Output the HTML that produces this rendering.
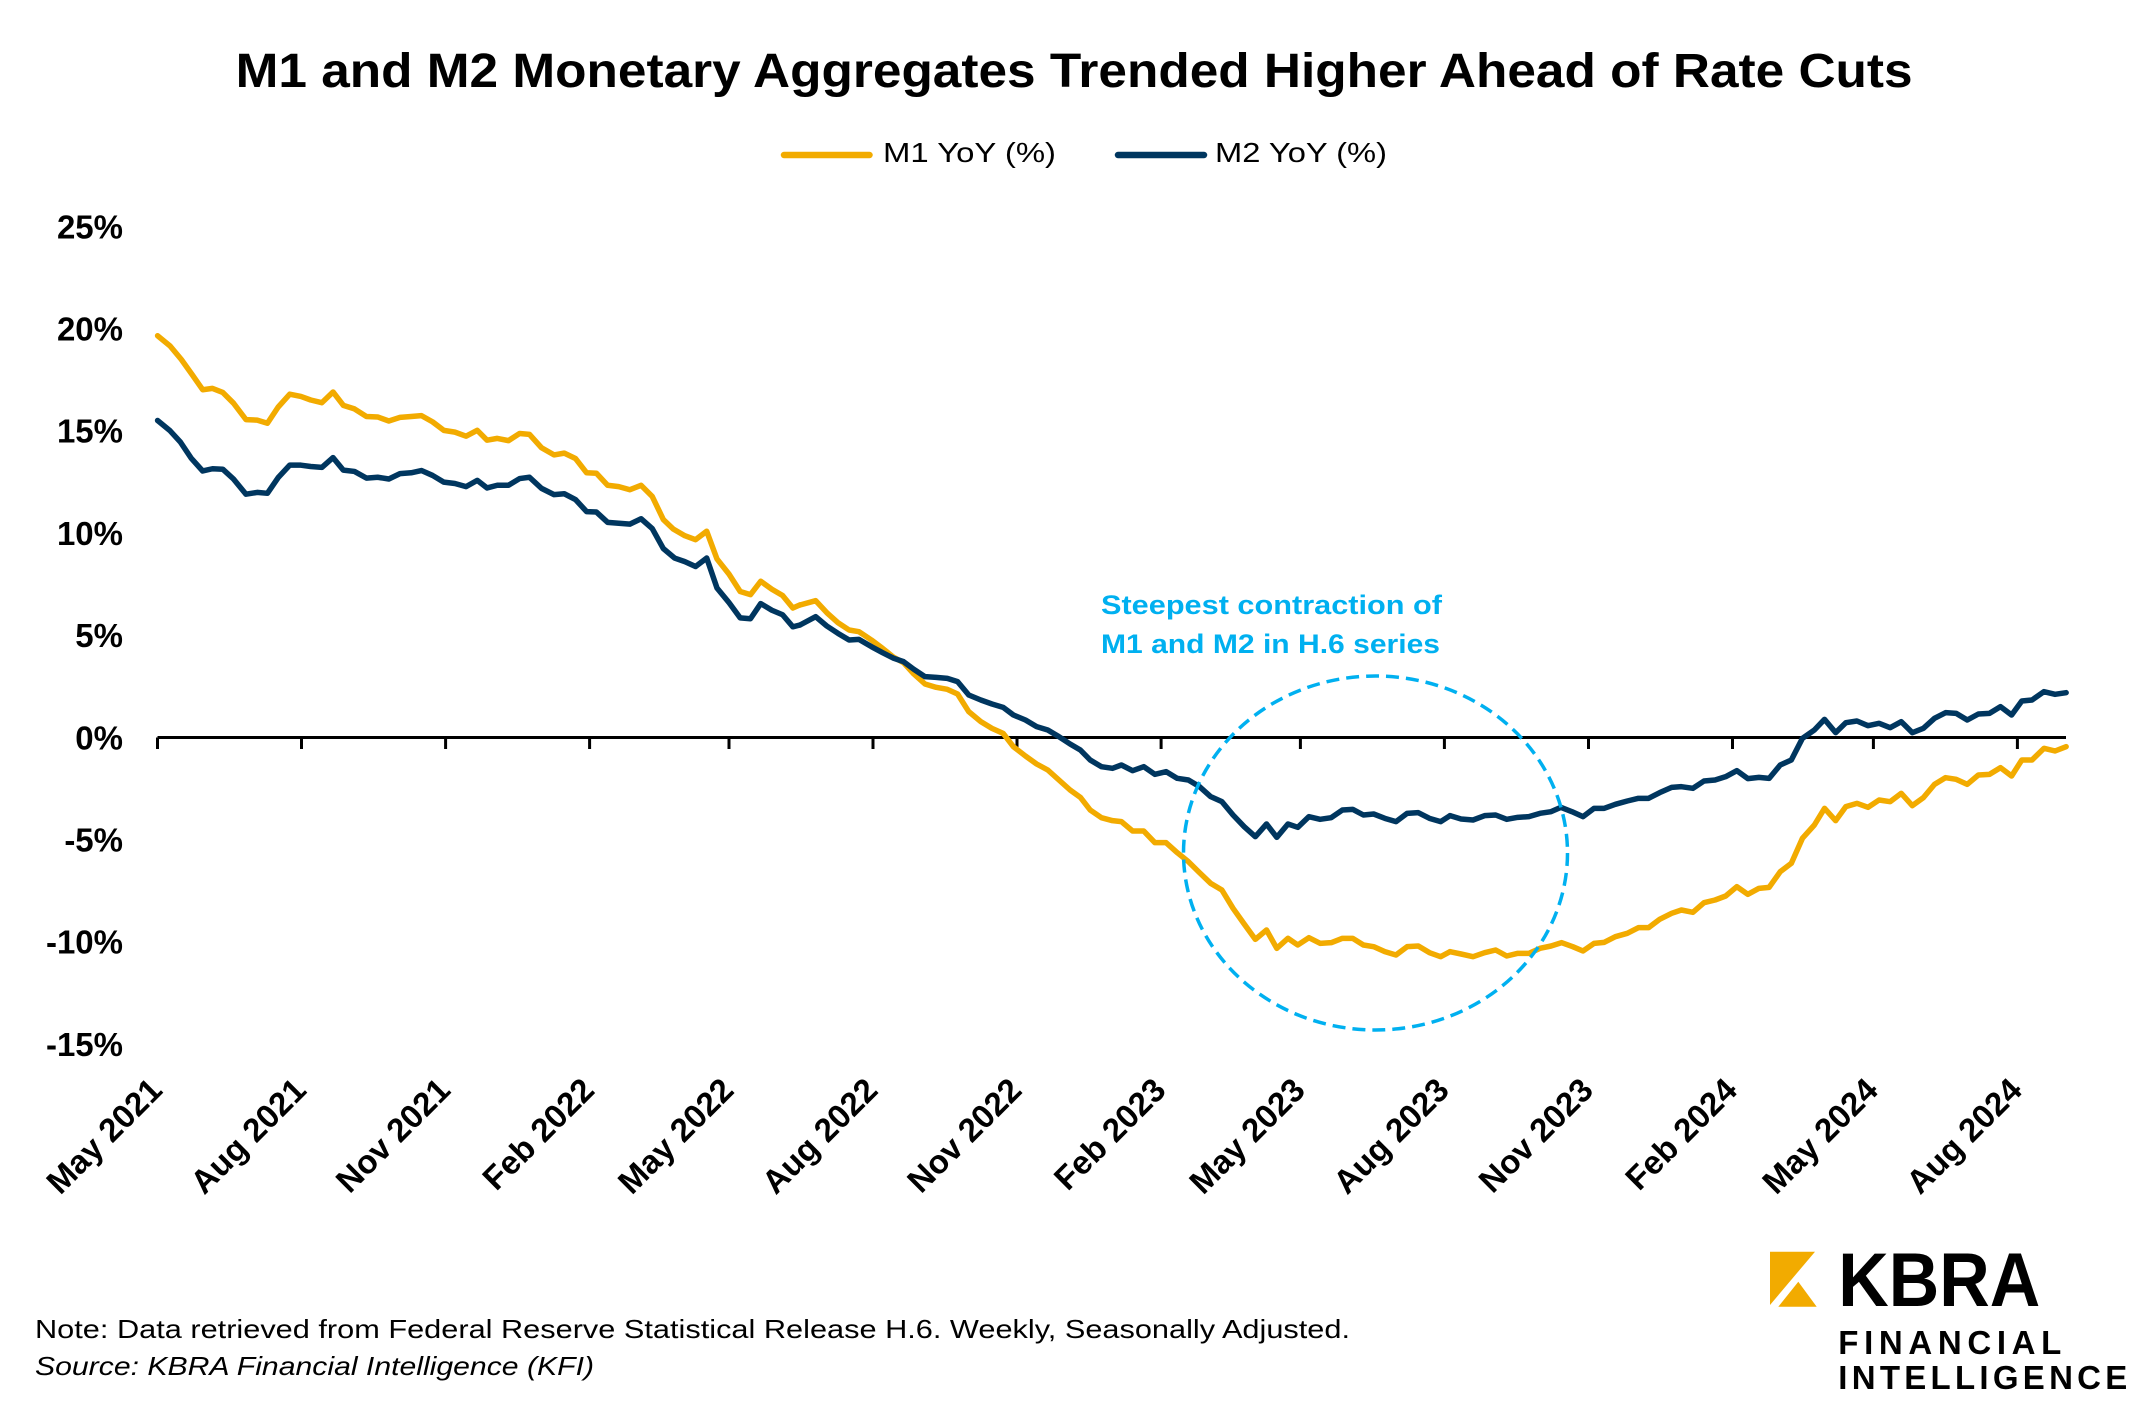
<!DOCTYPE html>
<html>
<head>
<meta charset="utf-8">
<style>
  html, body { margin: 0; padding: 0; background: #ffffff; }
  svg { display: block; }
  text { font-family: "Liberation Sans", Arial, sans-serif; }
</style>
</head>
<body>
<svg width="2145" height="1419" viewBox="0 0 2145 1419" xmlns="http://www.w3.org/2000/svg">
  <rect x="0" y="0" width="2145" height="1419" fill="#ffffff"/>

  <!-- Title -->
  <text x="235.6" y="87" font-size="48" font-weight="bold" fill="#000" textLength="1677" lengthAdjust="spacingAndGlyphs">M1 and M2 Monetary Aggregates Trended Higher Ahead of Rate Cuts</text>

  <!-- Legend -->
  <line x1="784" y1="155" x2="869.5" y2="155" stroke="#F2AB00" stroke-width="6.5" stroke-linecap="round"/>
  <text x="883" y="162" font-size="28" fill="#000" textLength="173" lengthAdjust="spacingAndGlyphs">M1 YoY (%)</text>
  <line x1="1118" y1="155" x2="1204" y2="155" stroke="#00365F" stroke-width="6.5" stroke-linecap="round"/>
  <text x="1215" y="162" font-size="28" fill="#000" textLength="172" lengthAdjust="spacingAndGlyphs">M2 YoY (%)</text>

  <!-- Y axis labels -->
  <g font-size="33" font-weight="bold" fill="#000" text-anchor="end">
    <text x="123" y="238.3">25%</text>
    <text x="123" y="340.5">20%</text>
    <text x="123" y="442.7">15%</text>
    <text x="123" y="544.9">10%</text>
    <text x="123" y="647.1">5%</text>
    <text x="123" y="749.3">0%</text>
    <text x="123" y="851.5">-5%</text>
    <text x="123" y="953.7">-10%</text>
    <text x="123" y="1055.9">-15%</text>
  </g>

  <!-- X axis line and ticks -->
  <line x1="157.5" y1="737.5" x2="2066" y2="737.5" stroke="#000" stroke-width="3"/>
  <g stroke="#000" stroke-width="3">
    <line x1="157.5" y1="737.5" x2="157.5" y2="749"/>
    <line x1="301.5" y1="737.5" x2="301.5" y2="749"/>
    <line x1="445.6" y1="737.5" x2="445.6" y2="749"/>
    <line x1="589.6" y1="737.5" x2="589.6" y2="749"/>
    <line x1="729.0" y1="737.5" x2="729.0" y2="749"/>
    <line x1="873.0" y1="737.5" x2="873.0" y2="749"/>
    <line x1="1017.0" y1="737.5" x2="1017.0" y2="749"/>
    <line x1="1161.1" y1="737.5" x2="1161.1" y2="749"/>
    <line x1="1300.4" y1="737.5" x2="1300.4" y2="749"/>
    <line x1="1444.4" y1="737.5" x2="1444.4" y2="749"/>
    <line x1="1588.5" y1="737.5" x2="1588.5" y2="749"/>
    <line x1="1732.5" y1="737.5" x2="1732.5" y2="749"/>
    <line x1="1873.4" y1="737.5" x2="1873.4" y2="749"/>
    <line x1="2017.4" y1="737.5" x2="2017.4" y2="749"/>
  </g>

  <!-- X axis labels (rotated -45) -->
  <g font-size="33" font-weight="bold" fill="#000" text-anchor="end">
    <text transform="translate(164,1092) rotate(-45)">May 2021</text>
    <text transform="translate(308,1092) rotate(-45)">Aug 2021</text>
    <text transform="translate(452.1,1092) rotate(-45)">Nov 2021</text>
    <text transform="translate(596.1,1092) rotate(-45)">Feb 2022</text>
    <text transform="translate(735.5,1092) rotate(-45)">May 2022</text>
    <text transform="translate(879.5,1092) rotate(-45)">Aug 2022</text>
    <text transform="translate(1023.5,1092) rotate(-45)">Nov 2022</text>
    <text transform="translate(1167.6,1092) rotate(-45)">Feb 2023</text>
    <text transform="translate(1306.9,1092) rotate(-45)">May 2023</text>
    <text transform="translate(1450.9,1092) rotate(-45)">Aug 2023</text>
    <text transform="translate(1595,1092) rotate(-45)">Nov 2023</text>
    <text transform="translate(1739,1092) rotate(-45)">Feb 2024</text>
    <text transform="translate(1879.9,1092) rotate(-45)">May 2024</text>
    <text transform="translate(2023.9,1092) rotate(-45)">Aug 2024</text>
  </g>

  <!-- M1 series (gold) -->
  <g fill="none" stroke="#F2AB00" stroke-width="5.5" stroke-linejoin="round" stroke-linecap="round">
    <g transform="translate(150,300) scale(0.446429)">
      <polyline vector-effect="non-scaling-stroke" points="17,80 45,103 70,133 95,168 118,201 140,198 163,207 187,231 215,268 240,269 263,276 287,240 313,211 338,216 360,224 385,230 410,206 433,236 458,244 485,261 510,262 535,271 560,263 585,261 608,259 633,273 658,292 683,296 708,305 733,292 755,314 778,310 803,315 828,299 850,301 877,331 905,347 928,343 953,355 978,387 1000,388 1025,415 1050,418 1075,425 1100,415 1125,440 1150,492 1172,513 1198,528 1222,537 1247,518 1270,580 1297,614 1322,653 1345,660 1368,630 1393,648 1417,662 1440,690 1456,683"/>
    </g>
    <g transform="translate(800,550) scale(0.446429,0.333333)">
      <polyline vector-effect="non-scaling-stroke" points="0,165 35,152 60,188 85,218 110,240 132,245 160,270 185,295 210,322 232,338 255,372 280,402 305,412 330,418 353,432 378,485 405,515 430,535 455,550 478,590 505,618 530,642 555,660 580,690 605,720 628,742 650,780 675,803 700,812 720,815 745,843 770,843 795,878 820,878 845,908 870,935 895,968 920,1000 945,1020 970,1075 995,1122 1020,1168 1045,1140 1068,1195 1093,1165 1115,1185 1140,1163 1165,1180 1190,1178 1215,1165 1238,1165 1262,1185 1285,1190 1310,1205 1335,1215 1360,1190 1385,1188 1410,1208 1435,1220 1456,1205"/>
    </g>
    <g transform="translate(1450,550) scale(0.443262,0.333333)">
      <polyline vector-effect="non-scaling-stroke" points="0,1205 25,1212 52,1220 78,1208 103,1200 128,1218 153,1210 178,1210 203,1195 228,1188 252,1178 277,1190 300,1203 325,1180 348,1177 373,1160 400,1150 425,1133 448,1133 473,1108 500,1090 522,1080 548,1087 573,1058 598,1050 622,1038 647,1010 672,1033 697,1015 720,1012 745,965 770,940 795,865 822,825 845,775 870,812 893,770 918,760 943,772 968,750 993,755 1018,730 1043,767 1068,743 1093,703 1118,683 1142,688 1167,703 1192,675 1217,673 1242,653 1267,678 1290,630 1313,630 1340,595 1365,603 1390,590"/>
    </g>
  </g>

  <!-- M2 series (navy) -->
  <g fill="none" stroke="#00365F" stroke-width="5.5" stroke-linejoin="round" stroke-linecap="round">
    <g transform="translate(150,300) scale(0.446429)">
      <polyline vector-effect="non-scaling-stroke" points="17,270 45,293 68,318 92,354 118,383 140,378 163,379 187,401 215,435 240,431 263,433 287,398 313,370 338,370 360,373 385,375 410,353 433,381 458,384 485,399 510,397 535,401 560,389 585,387 608,382 633,393 658,408 683,411 708,418 733,404 755,421 778,415 803,415 828,400 850,397 877,422 905,436 928,434 953,447 978,474 1000,475 1025,498 1050,500 1075,502 1100,490 1125,512 1150,557 1175,578 1198,586 1222,597 1247,578 1270,645 1297,678 1322,712 1345,714 1368,680 1393,695 1417,705 1440,732 1456,728"/>
    </g>
    <g transform="translate(800,550) scale(0.446429,0.333333)">
      <polyline vector-effect="non-scaling-stroke" points="0,225 35,200 60,228 85,250 110,270 132,268 160,290 185,308 210,325 232,335 255,358 280,380 305,382 330,385 353,395 378,435 405,450 430,462 455,472 478,495 505,510 530,530 555,540 580,560 605,582 628,600 650,630 675,650 700,655 720,645 745,662 770,650 795,673 820,665 845,685 870,690 895,710 920,740 945,755 970,795 995,830 1020,860 1045,822 1068,862 1093,822 1115,832 1140,800 1165,808 1190,803 1215,780 1238,778 1262,795 1285,792 1310,805 1335,815 1360,790 1385,788 1410,805 1435,815 1456,797"/>
    </g>
    <g transform="translate(1450,550) scale(0.443262,0.333333)">
      <polyline vector-effect="non-scaling-stroke" points="0,797 25,807 52,810 78,797 103,795 128,808 153,802 178,800 203,790 228,785 250,772 275,785 300,800 325,775 348,775 373,763 400,753 425,745 448,745 473,728 500,712 522,710 548,715 573,693 598,690 622,680 647,662 672,686 697,682 720,685 745,645 770,630 795,565 822,540 845,508 870,548 893,518 918,513 943,527 968,520 993,533 1018,515 1043,548 1068,535 1093,505 1118,488 1142,490 1167,510 1192,492 1217,490 1242,470 1267,495 1290,453 1313,450 1340,425 1365,433 1390,428"/>
    </g>
  </g>

  <!-- Annotation -->
  <ellipse cx="1375.5" cy="853" rx="192" ry="177" fill="none" stroke="#00B0F0" stroke-width="3.5" stroke-dasharray="13 7"/>
  <g font-size="27" font-weight="bold" fill="#00B0F0">
    <text x="1101" y="614" textLength="341" lengthAdjust="spacingAndGlyphs">Steepest contraction of</text>
    <text x="1101" y="653" textLength="339" lengthAdjust="spacingAndGlyphs">M1 and M2 in H.6 series</text>
  </g>

  <!-- Footnotes -->
  <text x="35" y="1338" font-size="26" fill="#000" textLength="1315" lengthAdjust="spacingAndGlyphs">Note: Data retrieved from Federal Reserve Statistical Release H.6. Weekly, Seasonally Adjusted.</text>
  <text x="35" y="1375" font-size="26" font-style="italic" fill="#000" textLength="559" lengthAdjust="spacingAndGlyphs">Source: KBRA Financial Intelligence (KFI)</text>

  <!-- KBRA logo -->
  <polygon points="1770,1251.7 1815,1251.7 1770,1305" fill="#F2AB00"/>
  <polygon points="1778.3,1306.7 1798.3,1281.7 1816.7,1306.7" fill="#F2AB00"/>
  <text x="1838.3" y="1306" font-size="76" font-weight="bold" fill="#000" textLength="202" lengthAdjust="spacingAndGlyphs">KBRA</text>
  <text x="1838.3" y="1354" font-size="33" font-weight="bold" fill="#000" textLength="223" lengthAdjust="spacing">FINANCIAL</text>
  <text x="1838.3" y="1389" font-size="33" font-weight="bold" fill="#000" textLength="289" lengthAdjust="spacing">INTELLIGENCE</text>
</svg>
</body>
</html>
